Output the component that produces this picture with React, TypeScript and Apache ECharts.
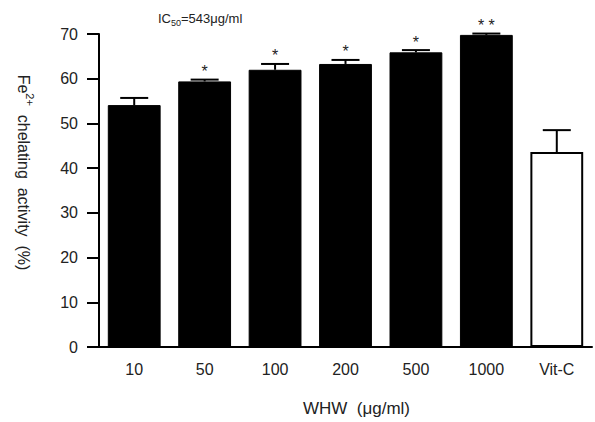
import React, { useEffect, useRef } from "react";
import * as echarts from "echarts";

const categories = ["10", "50", "100", "200", "500", "1000", "Vit-C"];
const means = [54.1, 59.4, 62.0, 63.3, 65.9, 69.8, 43.6];
const errors = [1.6, 0.4, 1.3, 0.9, 0.5, 0.3, 4.9];
const significance = ["", "*", "*", "*", "*", "* *", ""];
const barFills = ["#000", "#000", "#000", "#000", "#000", "#000", "#fff"];
const yMin = 0;
const yMax = 70;
const yInterval = 10;

const FONT = "'Liberation Sans', Arial, sans-serif";
const TXT = "#222";

export default function App() {
  const ref = useRef<HTMLDivElement>(null);
  useEffect(() => {
    if (!ref.current) return;
    const chart = echarts.init(ref.current, undefined, { renderer: "svg" });
    chart.setOption({
      animation: false,
      backgroundColor: "#fff",
      grid: { left: 99, right: 3, top: 34, bottom: 74, containLabel: false },
      graphic: [
        {
          type: "text",
          x: 158,
          y: 18,
          style: {
            text: "{n|IC}{s|50}{n|=543μg/ml}",
            verticalAlign: "middle",
            fill: TXT,
            rich: {
              n: { fontSize: 13, fontFamily: FONT, lineHeight: 18, fill: TXT },
              s: { fontSize: 9, fontFamily: FONT, lineHeight: 10, verticalAlign: "bottom", fill: TXT },
            },
          },
        },
      ],
      xAxis: {
        type: "category",
        data: categories,
        name: "WHW  (μg/ml)",
        nameLocation: "middle",
        nameGap: 53,
        nameTextStyle: { fontSize: 17, fontFamily: FONT, color: TXT, padding: [0, 0, 0, 22] },
        axisLine: { lineStyle: { color: "#000", width: 2 } },
        axisTick: { alignWithLabel: true, length: 10, lineStyle: { color: "#000", width: 2 } },
        axisLabel: { fontSize: 16, fontFamily: FONT, color: TXT, margin: 14 },
      },
      yAxis: {
        type: "value",
        min: yMin,
        max: yMax,
        interval: yInterval,
        name: "{a|Fe}{s|2+}{a|  chelating  activity  (%)}",
        nameLocation: "middle",
        nameRotate: -90,
        nameGap: 64,
        nameTextStyle: {
          color: TXT,
          padding: [0, 36, 0, 0],
          rich: {
            a: { fontSize: 16, fontFamily: FONT, lineHeight: 24, color: TXT },
            s: { fontSize: 11, fontFamily: FONT, lineHeight: 11, verticalAlign: "top", color: TXT },
          },
        },
        splitLine: { show: false },
        axisLine: { show: true, lineStyle: { color: "#000", width: 2 } },
        axisTick: { show: true, length: 12, lineStyle: { color: "#000", width: 2 } },
        axisLabel: { fontSize: 16, fontFamily: FONT, color: TXT, margin: 21 },
      },
      series: [
        {
          type: "bar",
          data: means.map((v, i) => ({
            value: v,
            itemStyle: {
              color: barFills[i],
              borderColor: "#000",
              borderWidth: barFills[i] === "#fff" ? 2 : 1,
            },
          })),
          barWidth: "75%",
          z: 2,
        },
        {
          type: "custom",
          data: categories.map((c, i) => [i, means[i], errors[i]]),
          z: 3,
          renderItem: (params: any, api: any) => {
            const idx = api.value(0);
            const m = api.value(1);
            const e = api.value(2);
            const base = api.coord([idx, m]);
            const top = api.coord([idx, m + e]);
            const half = 14;
            const stroke = { stroke: "#000", lineWidth: 2 };
            return {
              type: "group",
              children: [
                { type: "line", shape: { x1: base[0], y1: base[1], x2: top[0], y2: top[1] }, style: stroke },
                { type: "line", shape: { x1: top[0] - half, y1: top[1], x2: top[0] + half, y2: top[1] }, style: stroke },
                {
                  type: "text",
                  x: top[0],
                  y: top[1] - 8,
                  style: {
                    text: significance[params.dataIndex],
                    fontSize: 16,
                    fontFamily: FONT,
                    fill: TXT,
                    align: "center",
                    verticalAlign: "middle",
                  },
                },
              ],
            };
          },
        },
      ],
    });
    return () => chart.dispose();
  }, []);
  return (
    <div
      ref={ref}
      style={{ position: "fixed", left: 0, top: 0, width: 595, height: 422 }}
    />
  );
}
